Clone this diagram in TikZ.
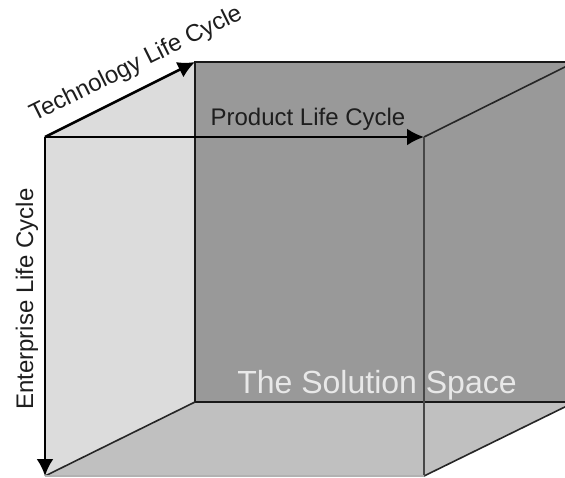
\documentclass[tikz,border=0pt]{standalone}
\usepackage{fontspec}
\setmainfont{Liberation Sans}
\usetikzlibrary{arrows.meta}
\definecolor{backgray}{HTML}{999999}
\definecolor{leftgray}{HTML}{DCDCDC}
\definecolor{bottomgray}{HTML}{C0C0C0}
\definecolor{labelcol}{HTML}{1E1E1E}
\definecolor{solcol}{HTML}{E8E8E8}
\tikzset{
  axisarrow/.style={draw=black, line width=2.6pt, -{Latex[length=17pt,width=17pt]}},
  backedge/.style={draw=black!90, line width=2.2pt},
  diagedge/.style={draw=black!85, line width=1.6pt},
  frontedge/.style={draw=black!72, line width=2.4pt},
  axislabel/.style={text=labelcol, font=\fontsize{24}{28}\selectfont, inner sep=0pt, anchor=base},
  sollabel/.style={text=solcol, font=\fontsize{32}{36}\selectfont, inner sep=0pt, anchor=base}
}
\begin{document}
\begin{tikzpicture}[x=1pt,y=-1pt]
\useasboundingbox (0,0) rectangle (565,477);
\clip (0,0) rectangle (565,477);
\fill[white] (0,0) rectangle (565,477);
% corners
\coordinate (F1) at (45,137);
\coordinate (F2) at (424,137);
\coordinate (F3) at (424,476);
\coordinate (F4) at (45,476);
\coordinate (B1) at (195,62);
\coordinate (B2) at (575,62);
\coordinate (B3) at (575,402);
\coordinate (B4) at (195,402);
% faces
\fill[backgray] (B1) rectangle (B3);
\fill[leftgray] (F1) -- (B1) -- (B4) -- (F4) -- cycle;
\fill[bottomgray] (F4) -- (F3) -- (B3) -- (B4) -- cycle;
% back edges
\draw[backedge] (B2) -- (B1) -- (B4) -- (B3);
% depth edges
\draw[diagedge] (F2) -- (B2);
\draw[diagedge] (F4) -- (B4);
\draw[diagedge] (F3) -- (B3);
% front edges
\draw[frontedge] (F2) -- (F3);
\draw[draw=black!30, line width=1.2pt] (F4) -- (F3);
% axes
\draw[axisarrow] (F1) -- (F2);
\draw[axisarrow] (F1) -- (B1);
\draw[axisarrow] (F1) -- (F4);
% labels
\node[axislabel] (prod) at (308,125) {Product Life Cycle};
\node[axislabel, rotate=26.4] (tech) at (139,70) {Technology Life Cycle};
\node[axislabel, rotate=90] (ent) at (33,299) {Enterprise Life Cycle};
\node[sollabel] (sol) at (377,393) {The Solution Space};
\end{tikzpicture}
\end{document}
